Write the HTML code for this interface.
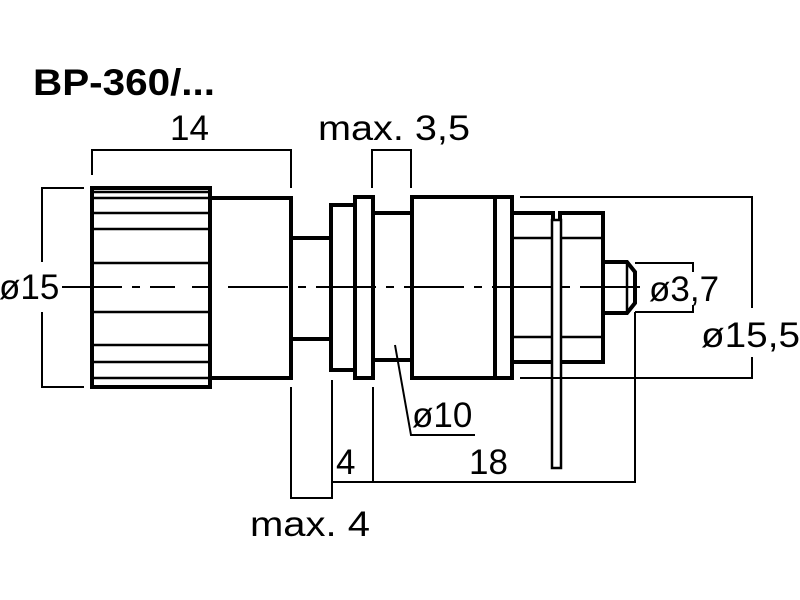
<!DOCTYPE html>
<html><head><style>html,body{margin:0;padding:0;background:#fff}svg{display:block}</style></head><body>
<svg width="800" height="600" viewBox="0 0 800 600" xmlns="http://www.w3.org/2000/svg" font-family="Liberation Sans, sans-serif">
<rect width="800" height="600" fill="#fff"/>
<g fill="none" stroke="#000" stroke-width="4">
<rect x="92" y="188" width="118" height="199"/>
<rect x="210" y="198" width="81" height="180"/>
<path d="M291 238H329M291 339H329"/>
<rect x="331" y="205" width="24" height="165"/>
<rect x="355" y="197" width="18" height="181"/>
<path d="M373 213H412M373 360H412"/>
<rect x="412" y="197" width="100" height="181"/>
<path d="M495 197V378"/>
<rect x="512" y="213" width="41" height="149"/>
<rect x="560" y="213" width="43" height="149"/>
<path d="M603 262H627L635 272V303L627 313H603"/>
</g>
<g fill="none" stroke="#000" stroke-width="2.5">
<path d="M94 192H208M94 198H208M94 213H208M94 229H208M94 263H208M94 312H208M94 345H208M94 362H208M94 378H208"/>
<path d="M627 264V311"/>
<path d="M512 238H553M512 337H553M560 238H603M560 337H603"/>
<rect x="552" y="220" width="9" height="248" fill="#fff"/>
</g>
<g fill="none" stroke="#000" stroke-width="2">
<path d="M62 287H175M192 287H210M228 287H640" stroke-dasharray="60 10 8 10"/>
<path d="M92 175V150H291V188"/>
<path d="M372 188V150H411V188"/>
<path d="M84 188H42V262M42 312V387H84"/>
<path d="M520 197H752V308M752 357V378H520"/>
<path d="M635 263H693V272M693 305V312H635"/>
<path d="M395 345L411 435H475"/>
<path d="M635 312V482H332V380M373 387V482"/>
<path d="M291 387V498H332V482"/>
</g>
<g font-size="35" fill="#000">
<text x="33" y="95" font-weight="bold" font-size="37" textLength="182" lengthAdjust="spacingAndGlyphs">BP-360/...</text>
<text x="170" y="140">14</text>
<text x="318" y="140" textLength="152" lengthAdjust="spacingAndGlyphs">max. 3,5</text>
<text x="-1" y="299">ø15</text>
<text x="649" y="301">ø3,7</text>
<text x="701" y="347" textLength="99" lengthAdjust="spacingAndGlyphs">ø15,5</text>
<text x="412" y="427">ø10</text>
<text x="336" y="474">4</text>
<text x="469" y="474">18</text>
<text x="250" y="536" textLength="120" lengthAdjust="spacingAndGlyphs">max. 4</text>
</g>
</svg>
</body></html>
